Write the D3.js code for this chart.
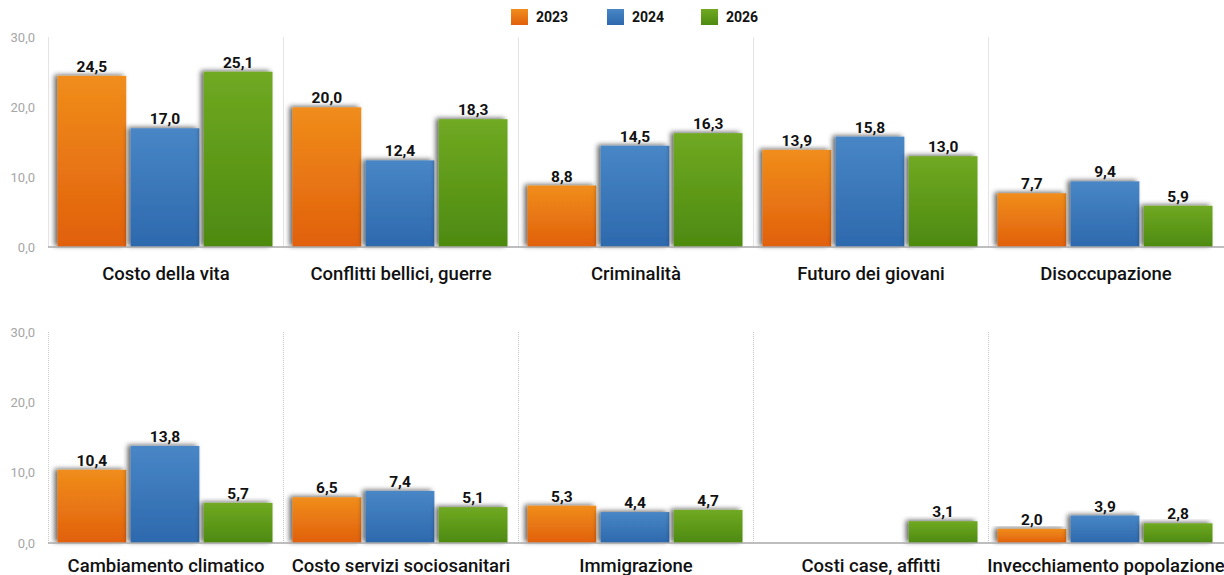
<!DOCTYPE html>
<html>
<head>
<meta charset="utf-8">
<script src="https://cdn.jsdelivr.net/npm/d3@7"></script>
<style>
  html, body { margin: 0; padding: 0; background: #fff; }
  svg { display: block; font-family: Roboto, "DejaVu Sans", sans-serif; }
</style>
</head>
<body>
<svg id="chart" width="1224" height="575"></svg>
<script>
// data
var years = ["2023", "2024", "2026"];
var categoriesTop = ["Costo della vita", "Conflitti bellici, guerre", "Criminalità", "Futuro dei giovani", "Disoccupazione"];
var categoriesBottom = ["Cambiamento climatico", "Costo servizi sociosanitari", "Immigrazione", "Costi case, affitti", "Invecchiamento popolazione"];
var values2023 = [24.5, 20.0, 8.8, 13.9, 7.7, 10.4, 6.5, 5.3, null, 2.0];
var values2024 = [17.0, 12.4, 14.5, 15.8, 9.4, 13.8, 7.4, 4.4, null, 3.9];
var values2026 = [25.1, 18.3, 16.3, 13.0, 5.9, 5.7, 5.1, 4.7, 3.1, 2.8];
var yTicks = [0, 10, 20, 30];

var colors = {
    "2023": ["#f08d1b", "#e1600c"],
    "2024": ["#4886c6", "#2d69ad"],
    "2026": ["#70a922", "#4d8a10"]
};

var svg = d3.select("#chart");
var defs = svg.append("defs");

var fmt = d3.formatLocale({decimal: ",", thousands: ".", grouping: [3], currency: ["", "€"]}).format(".1f");

years.forEach(function(y) {
    var g = defs.append("linearGradient")
        .attr("id", "grad" + y)
        .attr("x1", 0).attr("y1", 0).attr("x2", 0).attr("y2", 1);
    g.append("stop").attr("offset", "0%").attr("stop-color", colors[y][0]);
    g.append("stop").attr("offset", "100%").attr("stop-color", colors[y][1]);
});

var shadow = defs.append("filter").attr("id", "shadow")
    .attr("x", "-20%").attr("y", "-20%").attr("width", "140%").attr("height", "140%");
shadow.append("feDropShadow")
    .attr("dx", -3).attr("dy", -1)
    .attr("stdDeviation", 2.5)
    .attr("flood-color", "#000")
    .attr("flood-opacity", 0.6);

var rows = [
    {cats: categoriesTop, offset: 0, top: 37.5, base: 247, labelY: 280},
    {cats: categoriesBottom, offset: 5, top: 332, base: 543, labelY: 572}
];

var x0 = d3.scaleBand().domain(d3.range(5)).range([48.5, 1223.5]).paddingInner(0);
var x1 = d3.scaleBand().domain(years).range([9, 224]).paddingInner(0.06);

rows.forEach(function(row) {
    var y = d3.scaleLinear().domain([0, 30]).range([row.base, row.top]);
    var g = svg.append("g");

    // y axis labels
    g.selectAll(".ytick").data(yTicks).enter().append("text")
        .attr("x", 35)
        .attr("y", function(d) { return y(d); })
        .attr("dy", "0.35em")
        .attr("text-anchor", "end")
        .style("font-size", "13px")
        .style("fill", "#a6a6a6")
        .text(function(d) { return fmt(d); });

    // separators
    g.selectAll(".sep").data(d3.range(5)).enter().append("line")
        .attr("x1", function(i) { return x0(i); })
        .attr("x2", function(i) { return x0(i); })
        .attr("y1", y(30))
        .attr("y2", y(0))
        .style("stroke", "#c8c8c8")
        .style("stroke-width", 1)
        .style("stroke-dasharray", "1,1");

    // bars
    var panels = g.selectAll(".panel").data(row.cats).enter().append("g")
        .attr("transform", function(d, i) { return "translate(" + x0(i) + ",0)"; });

    panels.each(function(cat, i) {
        var idx = row.offset + i;
        var vals = [
            {year: "2023", v: values2023[idx]},
            {year: "2024", v: values2024[idx]},
            {year: "2026", v: values2026[idx]}
        ].filter(function(d) { return d.v !== null; });
        var p = d3.select(this);
        p.selectAll("rect").data(vals).enter().append("rect")
            .attr("x", function(d) { return x1(d.year); })
            .attr("width", x1.bandwidth())
            .attr("y", function(d) { return y(d.v); })
            .attr("height", function(d) { return y(0) - y(d.v); })
            .attr("fill", function(d) { return "url(#grad" + d.year + ")"; })
            .attr("filter", "url(#shadow)");
        p.selectAll(".val").data(vals).enter().append("text")
            .attr("x", function(d) { return x1(d.year) + x1.bandwidth() / 2; })
            .attr("y", function(d) { return y(d.v) - 4; })
            .attr("text-anchor", "middle")
            .style("font-size", "15.5px")
            .style("font-weight", "bold")
            .style("fill", "#111")
            .text(function(d) { return fmt(d.v); });
        p.append("text")
            .attr("x", (x0.bandwidth()) / 2)
            .attr("y", row.labelY)
            .attr("text-anchor", "middle")
            .style("font-size", "18.5px")
            .style("font-weight", 500)
            .style("fill", "#111")
            .text(cat);
    });

    // baseline
    g.append("line")
        .attr("x1", 48).attr("x2", 1224)
        .attr("y1", y(0)).attr("y2", y(0))
        .style("stroke", "#a8a8a8")
        .style("stroke-width", 1.5);
});

// legend
var legendX = [511, 607, 701];
var legend = svg.append("g");
years.forEach(function(yr, i) {
    legend.append("rect")
        .attr("x", legendX[i]).attr("y", 9)
        .attr("width", 17).attr("height", 16)
        .attr("fill", "url(#grad" + yr + ")");
    legend.append("text")
        .attr("x", legendX[i] + 25).attr("y", 17)
        .attr("dy", "0.35em")
        .style("font-size", "14px")
        .style("font-weight", "bold")
        .style("fill", "#111")
        .text(yr);
});
</script>
</body>
</html>
